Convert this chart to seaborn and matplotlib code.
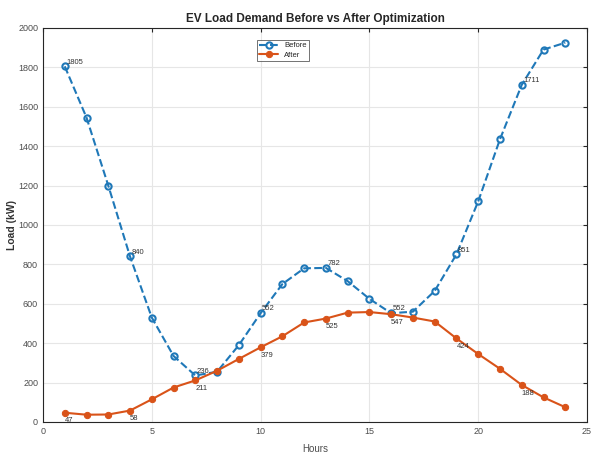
import matplotlib
matplotlib.use('Agg')
import matplotlib.pyplot as plt
import seaborn as sns
import pandas as pd

# Data beban EV per jam
hours = list(range(1, 25))
before = [1805, 1545, 1200, 840, 530, 335, 236, 255, 390, 552, 700, 780,
          782, 715, 625, 552, 560, 665, 851, 1120, 1435, 1711, 1890, 1925]
after = [47, 37, 38, 58, 115, 175, 211, 260, 320, 379, 435, 505,
         525, 555, 558, 547, 530, 510, 424, 345, 270, 188, 125, 75]

# Jam yang diberi label nilai
label_hours_before = [1, 4, 7, 10, 13, 16, 19, 22]
label_hours_after = [1, 4, 7, 10, 13, 16, 19, 22]

df = pd.DataFrame({'Hours': hours, 'Before': before, 'After': after})

sns.set_style('whitegrid')
plt.rcParams['font.family'] = ['Liberation Sans Narrow', 'Liberation Sans', 'DejaVu Sans']

fig = plt.figure(figsize=(5.92, 4.54), dpi=100)
ax = fig.add_axes([0.0726, 0.0705, 0.919, 0.868])

blue = '#1f78b8'
orange = '#d95319'

sns.lineplot(data=df, x='Hours', y='Before', ax=ax, color=blue, linestyle='--',
             linewidth=1.5, marker='o', markersize=4.5, markerfacecolor='none',
             markeredgecolor=blue, markeredgewidth=1.5, label='Before')
sns.lineplot(data=df, x='Hours', y='After', ax=ax, color=orange, linestyle='-',
             linewidth=1.5, marker='o', markersize=4.5, markerfacecolor=orange,
             markeredgecolor=orange, label='After')

for h in label_hours_before:
    v = before[h - 1]
    ax.annotate(str(v), (h, v), xytext=(1, 2), textcoords='offset points',
                fontsize=5.5, color='#333333')
for h in label_hours_after:
    v = after[h - 1]
    ax.annotate(str(v), (h, v), xytext=(0, -7), textcoords='offset points',
                fontsize=5.5, color='#333333')

ax.set_xlim(0, 25)
ax.set_ylim(0, 2000)
ax.set_xticks(range(0, 26, 5))
ax.set_yticks(range(0, 2001, 200))
ax.grid(True, color='#e6e6e6', linewidth=0.8)
for s in ax.spines.values():
    s.set_visible(True)
    s.set_color('#262626')
    s.set_linewidth(0.8)
ax.tick_params(axis='both', direction='in', length=3, labelsize=6.5,
               labelcolor='#4d4d4d', top=True, right=True, color='#262626')

ax.set_title('EV Load Demand Before vs After Optimization', fontsize=8.5,
             fontweight='bold', pad=4)
ax.set_xlabel('Hours', fontsize=7, color='#4d4d4d', labelpad=6)
ax.set_ylabel('Load (kW)', fontsize=7.5, fontweight='bold', color='#333333', labelpad=1)

leg = ax.legend(loc='upper left', bbox_to_anchor=(0.386, 0.98), fontsize=5.5,
                frameon=True, fancybox=False, edgecolor='#333333',
                handlelength=2.5, borderpad=0.3, labelspacing=0.3)
leg.get_frame().set_linewidth(0.6)

plt.savefig('out.png', dpi=100)
